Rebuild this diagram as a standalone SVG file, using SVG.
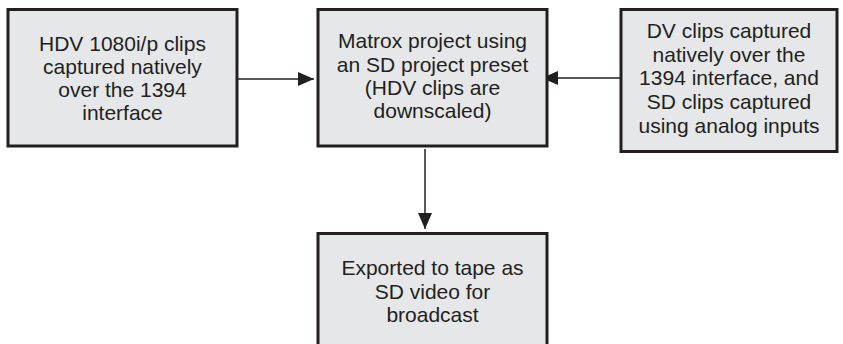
<svg xmlns="http://www.w3.org/2000/svg" width="843" height="344" viewBox="0 0 843 344">
<defs>
<style>
.box{fill:#e6e7e8;stroke:#231f20;stroke-width:3}
.t{font-family:"Liberation Sans",Arial,sans-serif;font-size:21px;fill:#231f20;text-anchor:middle}
.c{stroke:#231f20;stroke-width:1.5;fill:none}
</style>
<marker id="ah" markerWidth="16" markerHeight="14" refX="16" refY="7" orient="auto" markerUnits="userSpaceOnUse">
<path d="M0,0 L16,7 L0,14 Z" fill="#231f20"/>
</marker>
</defs>
<rect width="843" height="344" fill="#fff"/>
<g id="connectors">
<line class="c" x1="237" y1="79" x2="314" y2="79" marker-end="url(#ah)"/>
<line class="c" x1="621" y1="78" x2="542" y2="78" marker-end="url(#ah)"/>
<line class="c" x1="425" y1="149" x2="425" y2="229" marker-end="url(#ah)"/>
</g>
<g id="node1">
<rect class="box" x="8" y="9.5" width="229" height="136.5"/>
<text class="t" x="122.5"><tspan x="122.5" y="51">HDV 1080i/p clips</tspan><tspan x="122.5" y="74">captured natively</tspan><tspan x="122.5" y="97">over the 1394</tspan><tspan x="122.5" y="120">interface</tspan></text>
</g>
<g id="node2">
<rect class="box" x="318" y="9.5" width="229" height="136.5"/>
<text class="t"><tspan x="432.5" y="48">Matrox project using</tspan><tspan x="432.5" y="72">an SD project preset</tspan><tspan x="432.5" y="95">(HDV clips are</tspan><tspan x="432.5" y="118">downscaled)</tspan></text>
</g>
<g id="node3">
<rect class="box" x="621" y="9.5" width="216" height="142"/>
<text class="t"><tspan x="729" y="38">DV clips captured</tspan><tspan x="729" y="62">natively over the</tspan><tspan x="729" y="85">1394 interface, and</tspan><tspan x="729" y="109">SD clips captured</tspan><tspan x="729" y="133">using analog inputs</tspan></text>
</g>
<g id="node4">
<rect class="box" x="318" y="233.5" width="229" height="112"/>
<text class="t"><tspan x="432.5" y="275">Exported to tape as</tspan><tspan x="432.5" y="299">SD video for</tspan><tspan x="432.5" y="322">broadcast</tspan></text>
</g>
</svg>
